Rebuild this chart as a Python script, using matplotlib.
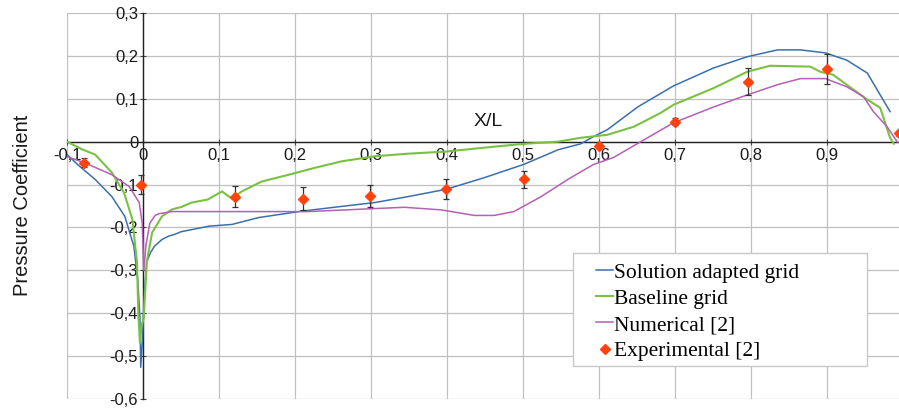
import matplotlib
matplotlib.use("Agg")
import matplotlib.pyplot as plt
from matplotlib.patches import Rectangle
from matplotlib.ticker import MultipleLocator, FuncFormatter

# --- data ---
adapted_x = [-0.1, -0.085, -0.063, -0.041, -0.024, -0.012, -0.007, -0.004, -0.003, -0.001,
             0.002, 0.005, 0.01, 0.015, 0.025, 0.034, 0.042, 0.05, 0.087, 0.117, 0.152,
             0.209, 0.261, 0.305, 0.349, 0.399, 0.449, 0.501, 0.546, 0.576, 0.593, 0.611,
             0.651, 0.698, 0.751, 0.795, 0.835, 0.865, 0.898, 0.926, 0.953, 0.983]
adapted_y = [-0.03, -0.055, -0.088, -0.128, -0.174, -0.244, -0.32, -0.41, -0.526, -0.47,
             -0.345, -0.28, -0.258, -0.244, -0.228, -0.22, -0.216, -0.21, -0.197, -0.193, -0.177,
             -0.162, -0.151, -0.142, -0.128, -0.111, -0.084, -0.053, -0.019, -0.005, 0.012, 0.028,
             0.081, 0.13, 0.172, 0.198, 0.214, 0.214, 0.207, 0.19, 0.16, 0.07]

baseline_x = [-0.1, -0.08, -0.063, -0.041, -0.025, -0.014, -0.008, -0.006, -0.004, -0.002,
              0.001, 0.005, 0.012, 0.025, 0.038, 0.051, 0.064, 0.085, 0.104, 0.117, 0.13,
              0.156, 0.192, 0.226, 0.261, 0.305, 0.349, 0.399, 0.449, 0.501, 0.546, 0.576,
              0.611, 0.646, 0.681, 0.698, 0.751, 0.795, 0.825, 0.878, 0.891, 0.908, 0.953,
              0.97, 0.983, 0.988]
baseline_y = [0.0, -0.018, -0.03, -0.072, -0.119, -0.181, -0.28, -0.407, -0.47, -0.43,
              -0.41, -0.28, -0.212, -0.174, -0.158, -0.152, -0.142, -0.135, -0.116, -0.133, -0.116,
              -0.093, -0.077, -0.061, -0.046, -0.034, -0.028, -0.023, -0.014, -0.005, 0.0, 0.009,
              0.016, 0.035, 0.067, 0.086, 0.125, 0.163, 0.177, 0.175, 0.163, 0.156, 0.098,
              0.079, 0.009, -0.005]

numerical_x = [-0.1, -0.077, -0.041, -0.018, -0.005, -0.001, 0.001, 0.004, 0.009, 0.016,
               0.021, 0.038, 0.1, 0.218, 0.305, 0.344, 0.392, 0.436, 0.462, 0.488, 0.524,
               0.559, 0.593, 0.619, 0.655, 0.698, 0.751, 0.795, 0.835, 0.865, 0.898, 0.926,
               0.948, 0.961, 0.979, 0.993]
numerical_y = [-0.035, -0.049, -0.077, -0.105, -0.142, -0.19, -0.3, -0.24, -0.19, -0.172,
               -0.168, -0.163, -0.163, -0.163, -0.156, -0.153, -0.159, -0.172, -0.172, -0.163, -0.128,
               -0.088, -0.053, -0.037, 0.0, 0.044, 0.081, 0.109, 0.133, 0.147, 0.147, 0.128,
               0.105, 0.07, 0.035, -0.002]

exp_x = [-0.077, -0.003, 0.121, 0.211, 0.299, 0.399, 0.501, 0.6, 0.7, 0.796, 0.9, 0.995]
exp_y = [-0.049, -0.1, -0.128, -0.133, -0.127, -0.11, -0.088, -0.009, 0.047, 0.14, 0.17, 0.02]
exp_err = [0.01, 0.022, 0.025, 0.027, 0.025, 0.023, 0.019, 0.006, 0.008, 0.031, 0.035, 0.006]

plt.rcParams['font.family'] = ['Liberation Sans', 'DejaVu Sans']

fig = plt.figure(figsize=(8.99, 4.08), dpi=100)
# right edge sits just past the picture, as in the reference
ax = fig.add_axes([67 / 899, 9 / 408, 836 / 899, 386 / 408])

ax.plot(adapted_x, adapted_y, color='#3a6fae', lw=1.1, label='Solution adapted grid', zorder=3)
ax.plot(baseline_x, baseline_y, color='#7ac143', lw=1.5, label='Baseline grid', zorder=3)
ax.plot(numerical_x, numerical_y, color='#b55fb5', lw=1.1, label='Numerical [2]', zorder=3)
ax.errorbar(exp_x, exp_y, yerr=exp_err, fmt='none', ecolor='#333333', elinewidth=0.9,
            capsize=2.5, capthick=0.9, zorder=4)
ax.plot(exp_x, exp_y, linestyle='none', marker='D', ms=5, color='#ff420e',
        label='Experimental [2]', zorder=5)

ax.set_xlim(-0.1, 1.0)
ax.set_ylim(-0.6, 0.3)
ax.xaxis.set_major_locator(MultipleLocator(0.1))
ax.yaxis.set_major_locator(MultipleLocator(0.1))


def comma(v, pos):
    if abs(v) < 1e-9:
        return '0'
    if abs(v - round(v)) < 1e-9:
        return str(int(round(v)))
    return f"{v:.1f}".replace('.', ',')


ax.xaxis.set_major_formatter(FuncFormatter(comma))
ax.yaxis.set_major_formatter(FuncFormatter(comma))

ax.grid(True, color='#c0c0c0', lw=0.9)
ax.set_axisbelow(True)
for s in ['top', 'right']:
    ax.spines[s].set_visible(False)
ax.spines['left'].set_position(('data', 0))
ax.spines['bottom'].set_position(('data', 0))
for s in ['left', 'bottom']:
    ax.spines[s].set_color('#222222')
    ax.spines[s].set_linewidth(1.0)
    ax.spines[s].set_zorder(2.5)
ax.tick_params(axis='both', direction='inout', length=5, width=0.8, color='#444444',
               labelsize=12, labelcolor='#1a1a1a')
ax.tick_params(axis='x', pad=2)
ax.tick_params(axis='y', pad=1)

ax.set_xlabel('X/L', fontsize=14, color='#1a1a1a')
ax.xaxis.set_label_coords(0.504, 0.74)
ax.set_ylabel('Pressure Coefficient', fontsize=14.5, color='#1a1a1a')
ax.yaxis.set_label_coords(-0.042, 0.503)

# legend frame drawn by hand so the entries can sit further in, like the reference
box = Rectangle((0.605, 0.0855), 0.352, 0.293, transform=ax.transAxes, facecolor='white',
                edgecolor='#c8c8c8', lw=1.0, zorder=6)
ax.add_patch(box)
leg = ax.legend(loc='upper left', bbox_to_anchor=(0.633, 0.353), borderaxespad=0,
                frameon=False, handlelength=0.8, handletextpad=0.05, labelspacing=0.28,
                borderpad=0, prop={'family': 'Liberation Serif', 'size': 15.5})
leg.set_zorder(7)

fig.savefig('out.png', dpi=100)
